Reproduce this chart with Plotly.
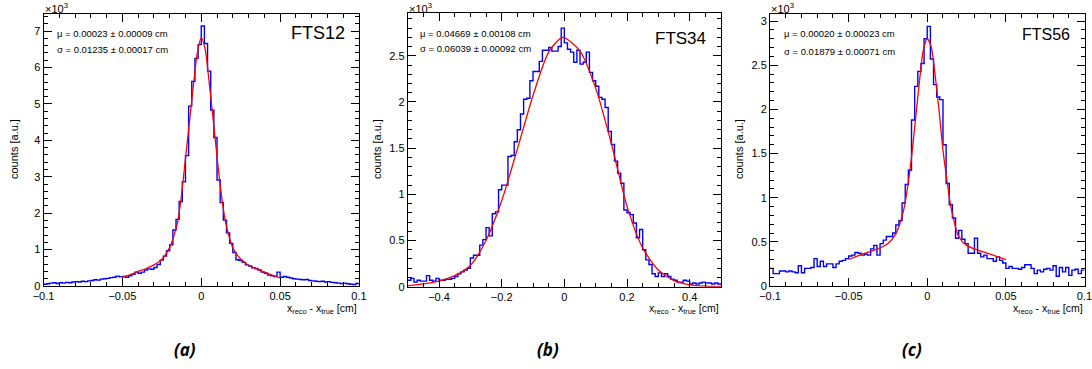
import plotly.graph_objects as go

W, H = 1092, 369

# ---------------- data (counts in units of 10^3) ----------------
# Panel (a) FTS12 : 100 bins in [-0.1, 0.1]
a_range = [-0.1, 0.1]
a_counts = [
    0.05, 0.06, 0.08, 0.09, 0.07, 0.09, 0.08, 0.10, 0.09, 0.11,
    0.12, 0.11, 0.13, 0.12, 0.14, 0.15, 0.17, 0.16, 0.19, 0.20,
    0.21, 0.23, 0.24, 0.27, 0.25, 0.26, 0.24, 0.28, 0.32, 0.38,
    0.35, 0.38, 0.44, 0.47, 0.46, 0.51, 0.59, 0.71, 0.82, 0.97,
    1.13, 1.54, 1.83, 2.32, 2.86, 3.58, 4.94, 5.62, 6.25, 6.63,
    7.14, 6.66, 5.90, 4.83, 4.08, 2.91, 2.29, 1.81, 1.46, 1.17,
    0.92, 0.72, 0.70, 0.65, 0.58, 0.55, 0.50, 0.48, 0.44, 0.38,
    0.35, 0.30, 0.28, 0.26, 0.38, 0.24, 0.26, 0.24, 0.22, 0.20,
    0.19, 0.18, 0.17, 0.18, 0.15, 0.14, 0.13, 0.12, 0.13, 0.11,
    0.12, 0.10, 0.09, 0.08, 0.07, 0.08, 0.06, 0.05, 0.04, 0.07,
]
a_fit_x = [-0.05, -0.045, -0.04, -0.035, -0.03, -0.025, -0.02, -0.0175, -0.015,
           -0.0125, -0.01, -0.0075, -0.005, -0.0025, 0.0, 0.0025, 0.005, 0.0075,
           0.01, 0.0125, 0.015, 0.0175, 0.02, 0.025, 0.03, 0.035, 0.04, 0.045, 0.05]
a_fit_y = [0.24, 0.31, 0.40, 0.48, 0.58, 0.73, 1.06, 1.35, 1.75,
           2.50, 3.50, 4.50, 5.50, 6.40, 6.82, 6.50, 5.60, 4.60,
           3.55, 2.60, 1.85, 1.38, 1.05, 0.74, 0.57, 0.47, 0.38, 0.30, 0.22]

# Panel (b) FTS34 : 100 bins in [-0.5, 0.5]
b_range = [-0.5, 0.5]
b_counts = [
    0.07, 0.09, 0.05, 0.07, 0.06, 0.06, 0.12, 0.07, 0.06, 0.09,
    0.07, 0.07, 0.08, 0.08, 0.09, 0.11, 0.14, 0.16, 0.18, 0.20,
    0.31, 0.34, 0.34, 0.45, 0.51, 0.64, 0.55, 0.79, 0.81, 1.05,
    1.10, 1.10, 1.41, 1.42, 1.57, 1.70, 1.87, 2.03, 2.04, 2.23,
    2.33, 2.33, 2.44, 2.56, 2.56, 2.59, 2.55, 2.55, 2.60, 2.80,
    2.64, 2.57, 2.54, 2.43, 2.56, 2.41, 2.43, 2.54, 2.32, 2.23,
    2.17, 2.05, 2.03, 1.94, 1.68, 1.54, 1.36, 1.23, 1.12, 0.83,
    0.80, 0.78, 0.69, 0.53, 0.62, 0.40, 0.29, 0.24, 0.14, 0.11,
    0.15, 0.11, 0.14, 0.11, 0.08, 0.07, 0.05, 0.05, 0.07, 0.06,
    0.03, 0.04, 0.03, 0.04, 0.05, 0.04, 0.04, 0.03, 0.04, 0.03,
]
b_fit_x = [-0.5, -0.45, -0.4, -0.35, -0.3, -0.25, -0.2, -0.15, -0.1, -0.05,
           -0.005, 0.05, 0.1, 0.15, 0.2, 0.25, 0.3, 0.35, 0.4, 0.45, 0.5]
b_fit_y = [0.01, 0.03, 0.06, 0.12, 0.23, 0.50, 0.93, 1.49, 2.07, 2.54,
           2.70, 2.55, 2.15, 1.55, 0.87, 0.42, 0.18, 0.065, 0.02, 0.006, 0.002]

# Panel (c) FTS56 : 100 bins in [-0.1, 0.1]
c_range = [-0.1, 0.1]
c_counts = [
    0.20, 0.14, 0.14, 0.17, 0.17, 0.16, 0.17, 0.16, 0.15, 0.23,
    0.15, 0.20, 0.20, 0.21, 0.31, 0.22, 0.28, 0.22, 0.25, 0.25,
    0.21, 0.25, 0.28, 0.29, 0.31, 0.34, 0.35, 0.38, 0.37, 0.35,
    0.36, 0.35, 0.42, 0.46, 0.35, 0.48, 0.52, 0.56, 0.56, 0.60,
    0.69, 0.74, 0.94, 1.15, 1.31, 1.88, 2.26, 2.43, 2.52, 2.80,
    2.94, 2.57, 2.28, 2.14, 2.11, 1.60, 1.16, 0.92, 0.77, 0.54,
    0.63, 0.53, 0.48, 0.37, 0.37, 0.54, 0.37, 0.33, 0.35, 0.31,
    0.31, 0.28, 0.33, 0.29, 0.26, 0.20, 0.22, 0.20, 0.20, 0.19,
    0.21, 0.24, 0.24, 0.20, 0.14, 0.18, 0.16, 0.19, 0.20, 0.18,
    0.23, 0.11, 0.21, 0.16, 0.21, 0.12, 0.18, 0.19, 0.14, 0.18,
]
c_fit_x = [-0.05, -0.04, -0.03, -0.025, -0.02, -0.015, -0.0125, -0.01, -0.0075,
           -0.005, -0.0025, 0.0, 0.0025, 0.005, 0.0075, 0.01, 0.0125, 0.015,
           0.02, 0.025, 0.03, 0.04, 0.05]
c_fit_y = [0.30, 0.37, 0.43, 0.48, 0.59, 0.86, 1.12, 1.46, 1.88,
           2.31, 2.67, 2.80, 2.71, 2.39, 1.99, 1.54, 1.20, 0.90,
           0.56, 0.46, 0.42, 0.36, 0.30]

names = ["FTS12", "FTS34", "FTS56"]
mu_txt = ["μ = 0.00023 ± 0.00009 cm", "μ = 0.04669 ± 0.00108 cm", "μ = 0.00020 ± 0.00023 cm"]
sig_txt = ["σ = 0.01235 ± 0.00017 cm", "σ = 0.06039 ± 0.00092 cm", "σ = 0.01879 ± 0.00071 cm"]
captions = ["(a)", "(b)", "(c)"]

x_ticks = [[-0.1, -0.05, 0, 0.05, 0.1], [-0.4, -0.2, 0, 0.2, 0.4], [-0.1, -0.05, 0, 0.05, 0.1]]
x_ticklabels = [["−0.1", "−0.05", "0", "0.05", "0.1"], ["−0.4", "−0.2", "0", "0.2", "0.4"],
                ["−0.1", "−0.05", "0", "0.05", "0.1"]]
y_ticks = [[0, 1, 2, 3, 4, 5, 6, 7], [0, 0.5, 1, 1.5, 2, 2.5], [0, 0.5, 1, 1.5, 2, 2.5, 3]]
y_ticklabels = [["0", "1", "2", "3", "4", "5", "6", "7"], ["0", "0.5", "1", "1.5", "2", "2.5"],
                ["0", "0.5", "1", "1.5", "2", "2.5", "3"]]

# ---------------- layout geometry (pixels) ----------------
frames = [  # left, right, top, bottom
    (43.5, 359.0, 14.0, 286.0),
    (407.7, 721.0, 13.3, 286.7),
    (770.0, 1084.5, 14.0, 286.0),
]
y_max = [7.47, 2.96, 3.08]
x_minor = [0.01, 0.05, 0.01]
y_minor = [0.2, 0.1, 0.1]
fts_pos = [(347, 33, 18), (708, 38, 17), (1072, 35, 16)]
stat_x = [55, 418, 782]
stat_y = [(33, 50), (33, 49), (33, 52)]
ytitle_x = [14, 377, 739]
caption_x = [185, 548, 912]

def px(x):
    return x / W

def py(y):
    return 1 - y / H

fig = go.Figure()
hists = [(a_range, a_counts, a_fit_x, a_fit_y),
         (b_range, b_counts, b_fit_x, b_fit_y),
         (c_range, c_counts, c_fit_x, c_fit_y)]

annotations = []
for k, (rng, counts, fx, fy) in enumerate(hists):
    sfx = "" if k == 0 else str(k + 1)
    n = len(counts)
    width = (rng[1] - rng[0]) / n
    edges = [rng[0] + i * width for i in range(n + 1)]
    fig.add_trace(go.Scatter(
        x=edges, y=counts + [counts[-1]], mode="lines",
        line=dict(color="#0000ff", width=1.4, shape="hv"),
        xaxis="x" + sfx, yaxis="y" + sfx, showlegend=False, hoverinfo="skip"))
    fig.add_trace(go.Scatter(
        x=fx, y=fy, mode="lines",
        line=dict(color="#ff0000", width=1.3, shape="spline", smoothing=0.7),
        xaxis="x" + sfx, yaxis="y" + sfx, showlegend=False, hoverinfo="skip"))

    l, r, t, b = frames[k]
    axis_common = dict(showgrid=False, zeroline=False, showline=True, linecolor="black",
                       linewidth=1, mirror="ticks", ticks="inside", tickcolor="black",
                       tickwidth=1, ticklen=8, automargin=False,
                       tickfont=dict(family="Liberation Sans, Arial, sans-serif", size=11, color="black"))
    fig.update_layout(**{
        "xaxis" + sfx: dict(axis_common, domain=[px(l), px(r)], range=rng,
                            anchor="y" + sfx, tickmode="array", tickvals=x_ticks[k],
                            ticktext=x_ticklabels[k], ticklabeloverflow="allow",
                            minor=dict(dtick=x_minor[k], ticks="inside", ticklen=4,
                                       tickcolor="black", tickwidth=1, showgrid=False)),
        "yaxis" + sfx: dict(axis_common, domain=[py(b), py(t)], range=[0, y_max[k]],
                            anchor="x" + sfx, tickmode="array", tickvals=y_ticks[k],
                            ticktext=y_ticklabels[k],
                            minor=dict(dtick=y_minor[k], ticks="inside", ticklen=4,
                                       tickcolor="black", tickwidth=1, showgrid=False)),
    })

    font_txt = dict(family="Liberation Sans, Arial, sans-serif", color="black")
    annotations.append(dict(text="×10<sup>3</sup>", x=px(l - 1), y=py(8), xref="paper", yref="paper",
                            xanchor="left", yanchor="middle", showarrow=False,
                            font=dict(font_txt, size=11)))
    fxp, fyp, fs = fts_pos[k]
    annotations.append(dict(text=names[k], x=px(fxp), y=py(fyp), xref="paper", yref="paper",
                            xanchor="right", yanchor="middle", showarrow=False,
                            font=dict(font_txt, size=fs)))
    annotations.append(dict(text=mu_txt[k], x=px(stat_x[k]), y=py(stat_y[k][0]), xref="paper",
                            yref="paper", xanchor="left", yanchor="middle", showarrow=False,
                            font=dict(font_txt, size=9.5)))
    annotations.append(dict(text=sig_txt[k], x=px(stat_x[k]), y=py(stat_y[k][1]), xref="paper",
                            yref="paper", xanchor="left", yanchor="middle", showarrow=False,
                            font=dict(font_txt, size=9.5)))
    annotations.append(dict(text="counts [a.u.]", x=px(ytitle_x[k]), y=py(117), xref="paper",
                            yref="paper", xanchor="center", yanchor="top", textangle=-90,
                            showarrow=False, font=dict(font_txt, size=11)))
    annotations.append(dict(text="x<sub>reco</sub> - x<sub>true</sub> [cm]", x=px(r), y=py(309),
                            xref="paper", yref="paper", xanchor="right", yanchor="middle",
                            showarrow=False, font=dict(font_txt, size=10.5)))
    annotations.append(dict(text="<b><i>" + captions[k] + "</i></b>", x=px(caption_x[k]), y=py(349),
                            xref="paper", yref="paper", xanchor="center", yanchor="middle",
                            showarrow=False,
                            font=dict(family="Open Sans, Noto Sans, sans-serif", size=17,
                                      color="black")))

fig.update_layout(width=W, height=H, margin=dict(l=0, r=0, t=0, b=0),
                  paper_bgcolor="white", plot_bgcolor="white", annotations=annotations,
                  showlegend=False)

fig.write_html("out.html", config={"displayModeBar": False},
               post_script="document.body.style.margin='0px';"
                           "document.body.style.overflow='hidden';")
